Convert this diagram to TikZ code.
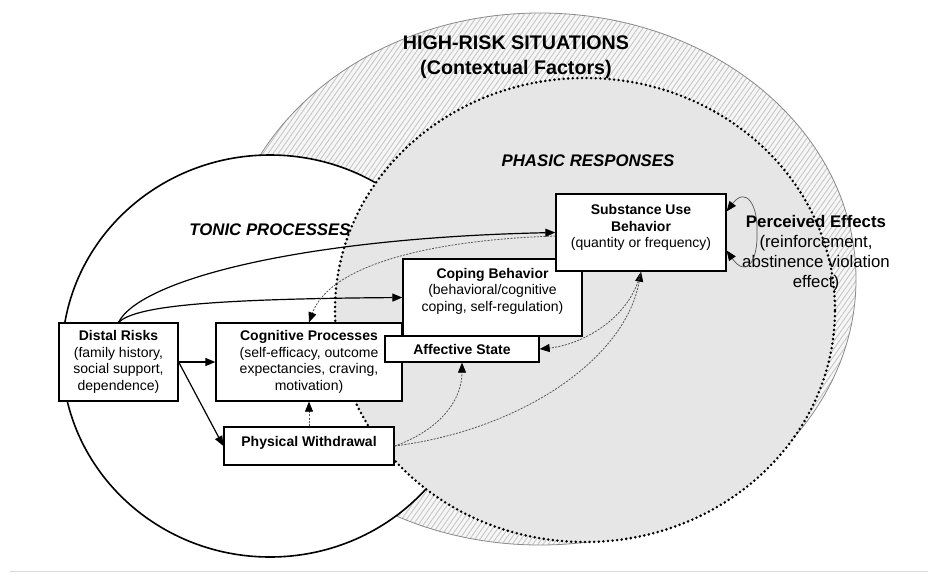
\documentclass[tikz,border=0pt]{standalone}
\usepackage{fontspec}
\setmainfont{Liberation Sans}
\usetikzlibrary{arrows.meta,patterns.meta,calc}

\definecolor{phasicfill}{HTML}{E6E6E6}
\definecolor{hatchbg}{HTML}{F6F6F6}
\definecolor{hatchline}{HTML}{C6C6C6}
\definecolor{rimline}{HTML}{8A8A8A}
\definecolor{faintline}{HTML}{555555}

\tikzset{
  box/.style={draw=black, line width=1.3pt, fill=white, inner sep=0pt,
    font=\fontsize{14}{16.5}\selectfont, align=center},
  boxtext/.style={inner sep=0pt, font=\fontsize{14}{16.5}\selectfont, align=center},
  headline/.style={inner sep=0pt, font=\bfseries\fontsize{19.7}{24.7}\selectfont, align=center},
  zonelabel/.style={inner sep=0pt, font=\bfseries\itshape\fontsize{16.8}{20}\selectfont},
  effectlabel/.style={inner sep=0pt, font=\fontsize{16.8}{19.8}\selectfont, align=center},
  link/.style={draw=black, line width=1.2pt, -{Triangle[length=10pt,width=8pt]}},
  faintlink/.style={draw=faintline, line width=0.8pt, dash pattern=on 2pt off 1.3pt,
    -{Triangle[length=10pt,width=8pt,color=black]}},
  looplink/.style={draw=faintline, line width=0.7pt,
    -{Triangle[length=10pt,width=8pt,color=black]}},
}

\begin{document}
\begin{tikzpicture}[x=1pt,y=-1pt]
\useasboundingbox (0,0) rectangle (928,573);

% high-risk situations: hatched outer region
\fill[hatchbg] (540,279) ellipse [x radius=316pt, y radius=266pt];
\fill[pattern={Lines[angle=55,distance=4.2pt,line width=0.9pt]}, pattern color=hatchline]
  (540,279) ellipse [x radius=316pt, y radius=266pt];
\draw[rimline, line width=0.8pt] (540,279) ellipse [x radius=316pt, y radius=266pt];

% tonic processes
\draw[fill=white, line width=1.6pt] (270,356) ellipse [x radius=208pt, y radius=201pt];

% phasic responses
\draw[fill=phasicfill, line width=2.8pt, line cap=round, dash pattern=on 0pt off 4.6pt]
  (585,310) ellipse [x radius=250pt, y radius=232pt];

% zone labels
\node[headline] (hrs) at (516,57.3) {HIGH-RISK SITUATIONS\\(Contextual Factors)};
\node[zonelabel, anchor=base] (phasic) at (588,166) {PHASIC RESPONSES};
\node[zonelabel, anchor=base] (tonic) at (270,235) {TONIC PROCESSES};
\node[effectlabel] (effects) at (816,253.3)
  {{\bfseries Perceived Effects}\\(reinforcement,\\abstinence violation\\effect)};

% boxes
\node[box, minimum width=186pt, minimum height=78pt] (cog) at (309,362)
  {{\bfseries Cognitive Processes}\\(self-efficacy, outcome\\expectancies, craving,\\motivation)};
\node[box, minimum width=119pt, minimum height=78pt] (distal) at (118.5,362)
  {{\bfseries Distal Risks}\\(family history,\\social support,\\dependence)};
\node[box, minimum width=170pt, minimum height=38pt] (pw) at (309,446) {};
\node[boxtext, font=\bfseries\fontsize{14}{16.5}\selectfont] (pwtext) at (309,443)
  {Physical Withdrawal};
\node[box, minimum width=179pt, minimum height=77pt] (coping) at (492.5,297.5) {};
\node[boxtext] (copingtext) at (492.5,290.9)
  {{\bfseries Coping Behavior}\\(behavioral/cognitive\\coping, self-regulation)};
\node[box, minimum width=154pt, minimum height=26pt] (aff) at (462,349)
  {\bfseries Affective State};
\node[box, minimum width=170pt, minimum height=77pt] (sub) at (641,232.5) {};
\node[boxtext] (subtext) at (641,227.4)
  {{\bfseries Substance Use}\\{\bfseries Behavior}\\(quantity or frequency)};

% solid connectors
\draw[link] (distal.east) -- (cog.west);
\draw[link] (distal.east) -- (pw.west);
\draw[link] (distal.north) .. controls (135,307) and (200,299) .. (coping.west);
\draw[link] (distal.north) .. controls (140,280) and (300,238) .. (sub.west);

% dashed connectors
\coordinate (subfb) at ($(sub.west)+(0,3.5)$);
\draw[faintlink] (subfb) .. controls (430,240) and (330,265) .. (cog.north);
\draw[faintlink] (pw.north) -- (cog.south);
\draw[faintlink] (pw.east) .. controls (440,430) and (462,400) .. (aff.south);
\draw[faintlink] (pw.east) .. controls (520,430) and (625,360) .. (sub.south);
\draw[faintlink] (sub.south) .. controls (630,320) and (580,345) .. (aff.east);

% feedback loop of perceived effects
\coordinate (loopR) at (757,232);
\coordinate (loopTop) at ($(sub.north east)!0.23!(sub.south east)$);
\coordinate (loopBot) at ($(sub.north east)!0.73!(sub.south east)$);
\draw[looplink] (loopR) .. controls (758,205) and (746,186) .. (loopTop);
\draw[looplink] (loopR) .. controls (758,262) and (746,278) .. (loopBot);

% rule at the foot
\draw[black!15, line width=1.2pt] (10,571.5) -- (928,571.5);
\end{tikzpicture}
\end{document}
